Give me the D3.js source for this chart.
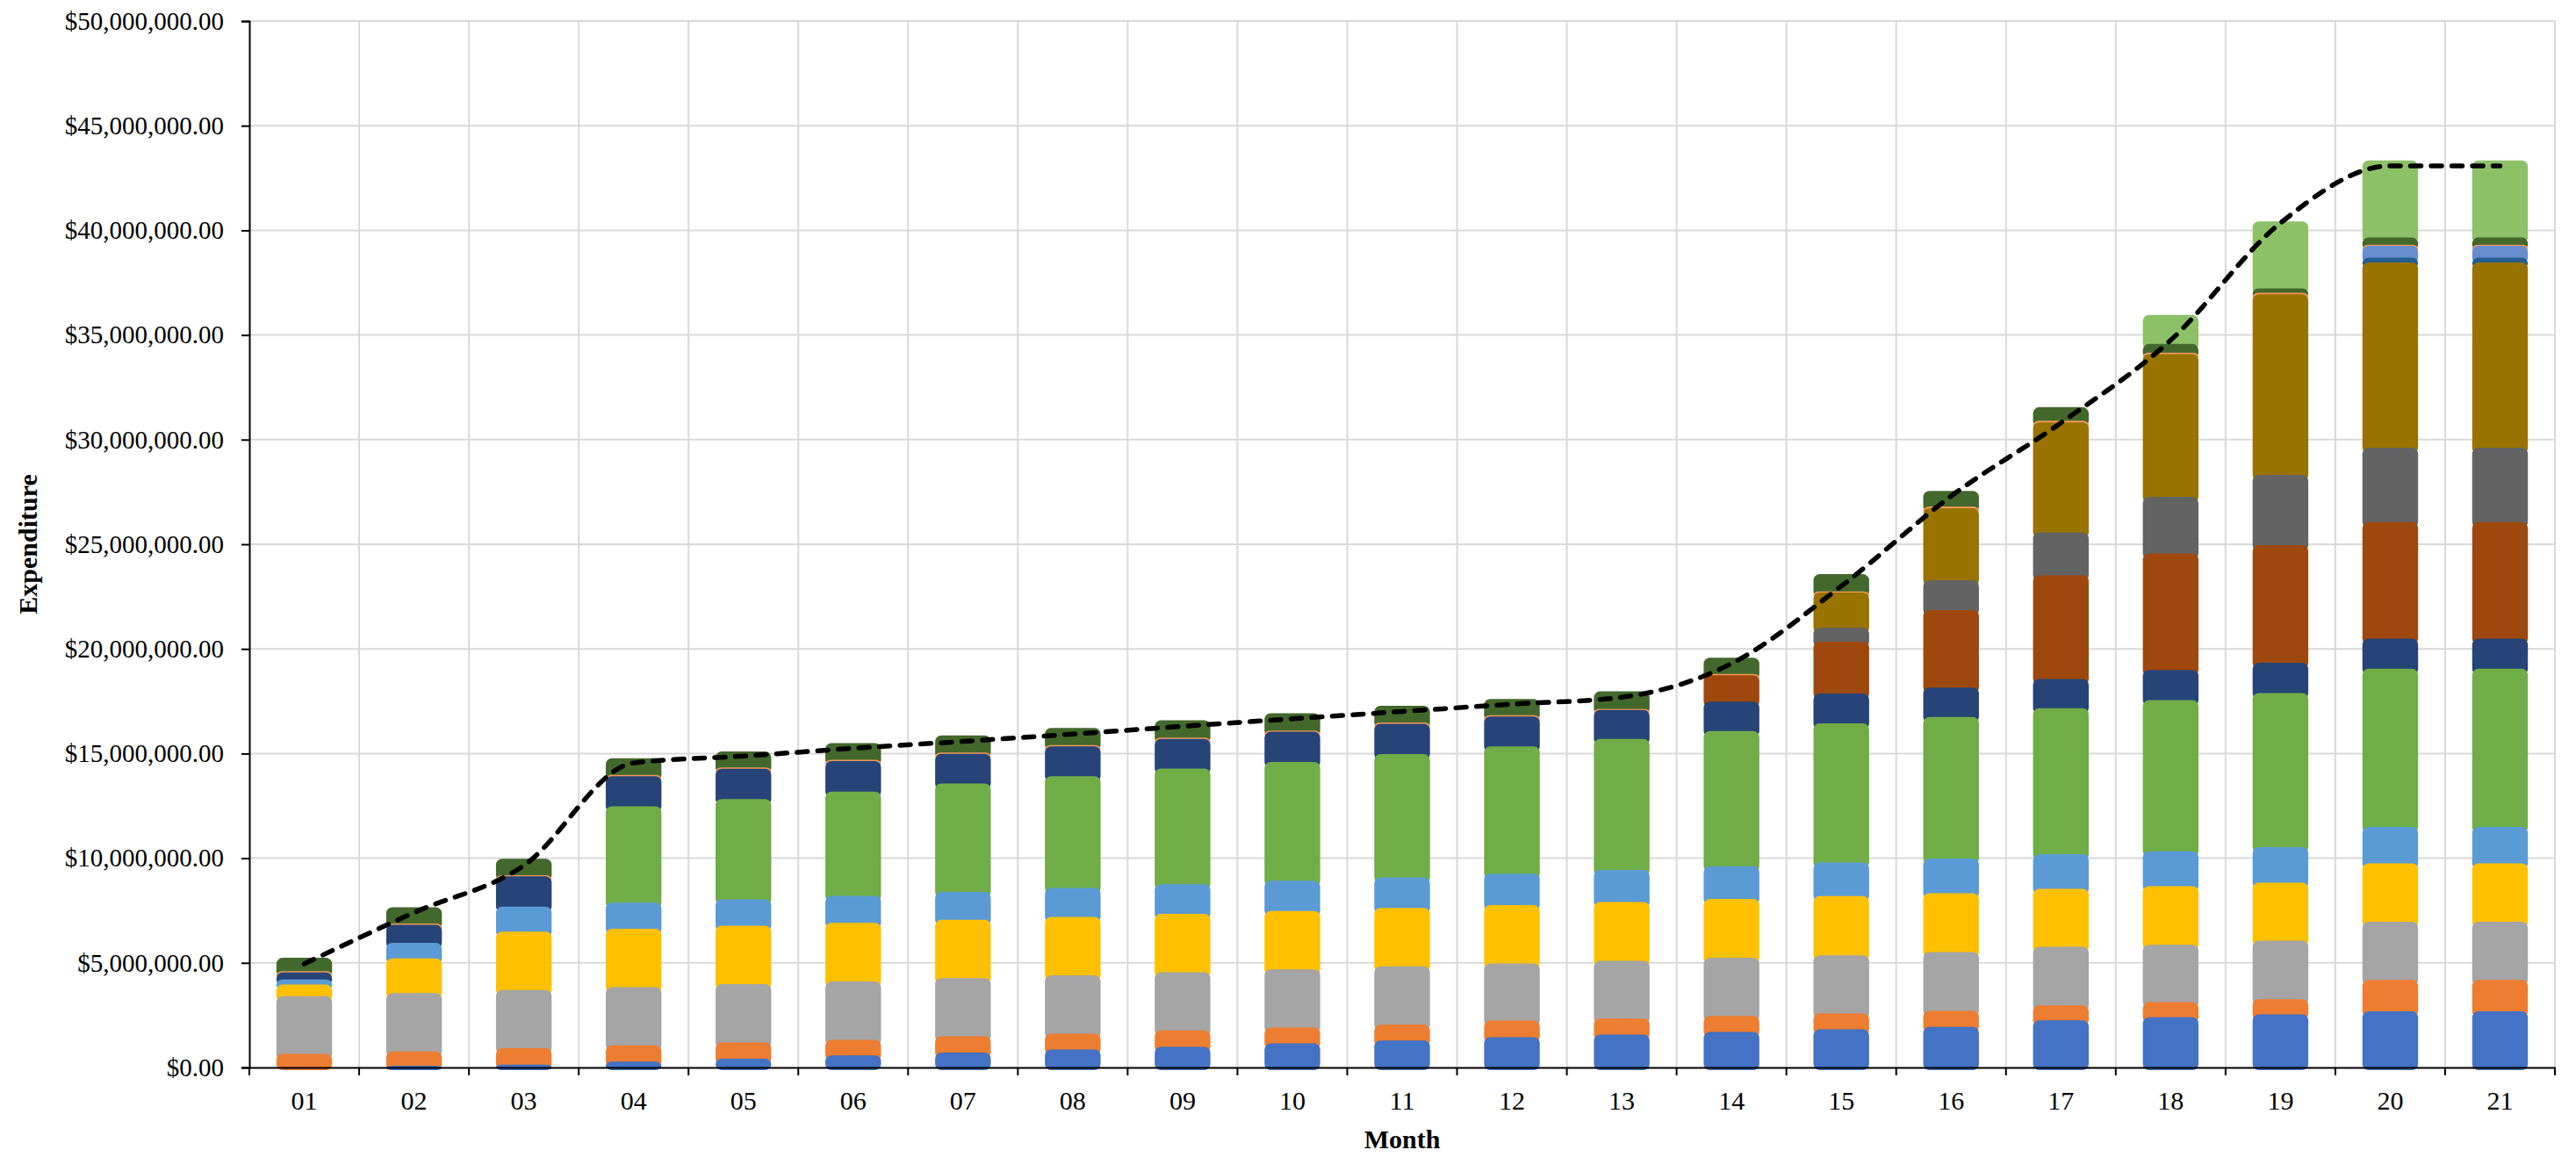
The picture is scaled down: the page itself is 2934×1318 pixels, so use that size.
<!DOCTYPE html>
<html>
<head>
<meta charset="utf-8">
<script src="https://cdn.jsdelivr.net/npm/d3@7"></script>
<style>
  body { margin: 0; background: #fff; }
  svg text { font-family: "Liberation Serif", "Times New Roman", serif; fill: #000; }
</style>
</head>
<body>
<div id="graph"></div>
<script>
// month labels on the x axis
var months = ["01","02","03","04","05","06","07","08","09","10","11","12","13","14","15","16","17","18","19","20","21"];

// expenditure per component and month, in millions of dollars (bottom of the stack first)
var blue     = [0.00,0.08,0.14,0.28,0.42,0.58,0.71,0.86,0.99,1.15,1.29,1.45,1.57,1.70,1.82,1.94,2.25,2.40,2.54,2.68,2.68];
var orange   = [0.65,0.69,0.78,0.78,0.78,0.74,0.78,0.76,0.78,0.76,0.75,0.79,0.77,0.76,0.76,0.77,0.72,0.72,0.72,1.50,1.50];
var gray     = [2.76,2.78,2.78,2.78,2.78,2.79,2.78,2.78,2.78,2.78,2.79,2.73,2.76,2.78,2.78,2.81,2.80,2.74,2.80,2.78,2.78];
var yellow   = [0.55,1.66,2.79,2.79,2.79,2.80,2.79,2.79,2.79,2.79,2.79,2.79,2.81,2.81,2.83,2.81,2.77,2.80,2.77,2.79,2.79];
var ltBlue   = [0.25,0.75,1.20,1.25,1.26,1.29,1.33,1.39,1.42,1.44,1.46,1.50,1.53,1.57,1.60,1.65,1.65,1.67,1.70,1.74,1.74];
var green    = [0.00,0.00,0.00,4.60,4.80,4.98,5.18,5.34,5.52,5.68,5.90,6.08,6.26,6.46,6.65,6.77,6.98,7.22,7.36,7.56,7.56];
var dkBlue   = [0.33,0.86,1.44,1.44,1.44,1.46,1.42,1.42,1.42,1.44,1.44,1.43,1.38,1.40,1.43,1.40,1.39,1.44,1.45,1.44,1.44];
var brown    = [0,0,0,0,0,0,0,0,0,0,0,0,0,1.26,2.47,3.70,4.96,5.57,5.62,5.57,5.57];
var dkGray   = [0,0,0,0,0,0,0,0,0,0,0,0,0,0.00,0.67,1.43,2.05,2.71,3.35,3.55,3.55];
var olive    = [0,0,0,0,0,0,0,0,0,0,0,0,0,0.00,1.68,3.44,5.25,6.81,8.63,8.85,8.85];
var steel    = [0,0,0,0,0,0,0,0,0,0,0,0,0,0,0,0,0,0,0,0.24,0.24];
var periwink = [0,0,0,0,0,0,0,0,0,0,0,0,0,0,0,0,0,0,0,0.56,0.56];
var peach    = [0.06,0.06,0.06,0.06,0.06,0.06,0.06,0.06,0.06,0.06,0.06,0.06,0.06,0.06,0.06,0.08,0.08,0.08,0.08,0.05,0.05];
var dkGreen  = [0.64,0.78,0.78,0.80,0.77,0.80,0.82,0.82,0.83,0.83,0.80,0.78,0.83,0.78,0.82,0.75,0.65,0.41,0.21,0.35,0.35];
var ltGreen  = [0,0,0,0,0,0,0,0,0,0,0,0,0,0,0,0,0,1.39,3.20,3.68,3.68];

// dashed trend line, millions of dollars
var trend = [4.95,7.40,9.65,14.55,14.88,15.25,15.58,15.93,16.30,16.66,17.01,17.36,17.69,19.30,23.00,27.30,30.80,34.75,40.35,43.08,43.08];

// y axis ticks, millions of dollars
var yTicks = [0,5,10,15,20,25,30,35,40,45,50];

var seriesData = {
  blue: blue, orange: orange, gray: gray, yellow: yellow, ltBlue: ltBlue, green: green,
  dkBlue: dkBlue, brown: brown, dkGray: dkGray, olive: olive, steel: steel, periwink: periwink,
  peach: peach, dkGreen: dkGreen, ltGreen: ltGreen
};
var keys = Object.keys(seriesData);
var colors = {
  blue: "#4472C4", orange: "#ED7D31", gray: "#A5A5A5", yellow: "#FFC000", ltBlue: "#5B9BD5",
  green: "#70AD47", dkBlue: "#264478", brown: "#9E480E", dkGray: "#636363", olive: "#997300",
  steel: "#255E91", periwink: "#698ED0", peach: "#F1975A", dkGreen: "#43682B", ltGreen: "#8CC168"
};

var rows = months.map(function(m, i) {
  var row = { month: m };
  keys.forEach(function(k) { row[k] = seriesData[k][i]; });
  return row;
});

// set the dimensions and margins of the graph
var margin = {top: 24, right: 24, bottom: 102, left: 284},
    width = 2934 - margin.left - margin.right,
    height = 1318 - margin.top - margin.bottom;

var x = d3.scaleBand().domain(months).range([0, width]).padding(0);
var y = d3.scaleLinear().domain([0, 50]).range([height, 0]);
var barW = x.bandwidth() * 0.507;
var r = 7;

var svg = d3.select("#graph").append("svg")
    .attr("width", 2934)
    .attr("height", 1318)
  .append("g")
    .attr("transform", "translate(" + margin.left + "," + margin.top + ")");

// gridlines
svg.append("g").selectAll("line").data(yTicks.slice(1)).join("line")
    .attr("x1", 0).attr("x2", width)
    .attr("y1", function(d) { return y(d); }).attr("y2", function(d) { return y(d); })
    .attr("stroke", "#d9d9d9").attr("stroke-width", 2);

svg.append("g").selectAll("line").data(months).join("line")
    .attr("x1", function(d) { return x(d) + x.bandwidth(); })
    .attr("x2", function(d) { return x(d) + x.bandwidth(); })
    .attr("y1", 0).attr("y2", height)
    .attr("stroke", "#d9d9d9").attr("stroke-width", 2);

// stacked bars, top components first so lower ones overlap their rounded bottoms
var layers = d3.stack().keys(keys)(rows);

svg.append("g").selectAll("g").data(layers.slice().reverse()).join("g")
    .attr("fill", function(d) { return colors[d.key]; })
  .selectAll("rect")
    .data(function(d) { return d.filter(function(p) { return p[1] - p[0] > 0; }); })
  .join("rect")
    .attr("x", function(p) { return x(p.data.month) + (x.bandwidth() - barW) / 2; })
    .attr("width", barW)
    .attr("y", function(p) { return y(p[1]); })
    .attr("height", function(p) { return Math.min(y(p[0]) + r, height + 3) - y(p[1]); })
    .attr("rx", r).attr("ry", r);

// dashed line
var line = d3.line()
    .x(function(d, i) { return x(months[i]) + x.bandwidth() / 2; })
    .y(function(d) { return y(d); })
    .curve(d3.curveMonotoneX);

svg.append("path")
    .datum(trend)
    .attr("d", line)
    .attr("fill", "none")
    .attr("stroke", "#000")
    .attr("stroke-width", 5.5)
    .attr("stroke-dasharray", "12,11.5")
    .attr("stroke-linecap", "round");

// y axis
var fmt = d3.format("$,.2f");
var yAxis = svg.append("g")
    .call(d3.axisLeft(y).tickValues(yTicks).tickSize(9).tickPadding(20)
      .tickFormat(function(d) { return fmt(d * 1e6); }));
yAxis.selectAll("text").attr("font-size", 29).attr("font-family", null);
yAxis.selectAll("line, path").attr("stroke", "#000").attr("stroke-width", 2);

// x axis: labels centred in bands, ticks on band edges
var xAxis = svg.append("g")
    .attr("transform", "translate(0," + height + ")")
    .call(d3.axisBottom(x).tickSize(0).tickPadding(27));
xAxis.select(".domain").attr("stroke", "#000").attr("stroke-width", 2);
xAxis.selectAll("text").attr("font-size", 30).attr("font-family", null);

xAxis.selectAll("line.edge").data([0].concat(months.map(function(d) { return x(d) + x.bandwidth(); })))
  .join("line").attr("class", "edge")
    .attr("x1", function(d) { return d; }).attr("x2", function(d) { return d; })
    .attr("y1", 0).attr("y2", 9)
    .attr("stroke", "#000").attr("stroke-width", 2);

// axis titles
svg.append("text")
    .attr("x", width / 2)
    .attr("y", height + 92)
    .attr("text-anchor", "middle")
    .attr("font-size", 30)
    .attr("font-weight", "bold")
    .text("Month");

svg.append("text")
    .attr("transform", "translate(" + (42 - margin.left) + "," + (height / 2) + ") rotate(-90)")
    .attr("text-anchor", "middle")
    .attr("font-size", 30)
    .attr("font-weight", "bold")
    .text("Expenditure");
</script>
</body>
</html>
